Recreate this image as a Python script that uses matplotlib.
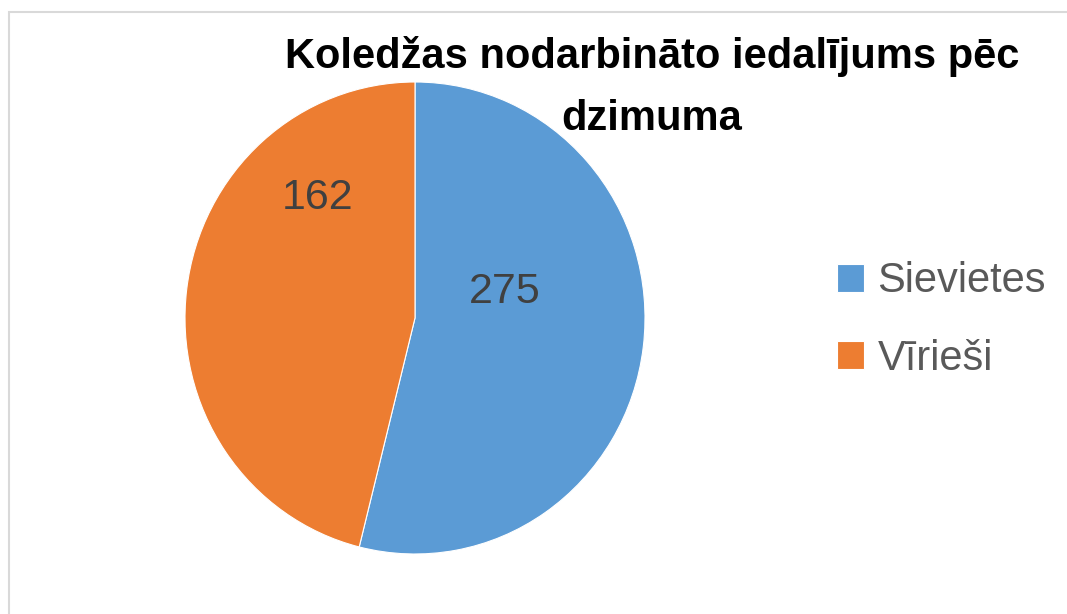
import matplotlib
matplotlib.use('Agg')
import matplotlib.pyplot as plt
from matplotlib.patches import Rectangle

# dati
kategorijas = ['Sievietes', 'Vīrieši']
skaits = [275, 162]
# slice shares as drawn in the original picture (labels show the counts)
dalas = [53.9, 46.1]
krasas = ['#5B9BD5', '#ED7D31']

W, H = 1067, 614
fig = plt.figure(figsize=(W / 100, H / 100), dpi=100)
fig.patch.set_facecolor('white')

fonts = ['Liberation Sans', 'DejaVu Sans']

# chart frame
fig.patches.append(Rectangle((9 / W, -0.1), 1.2, (H - 12) / H + 0.1, transform=fig.transFigure,
                             fill=False, edgecolor='#D9D9D9', linewidth=1.5))

ax = fig.add_axes([185 / W, (H - 554) / H, 460 / W, 472 / H])
wedges, _ = ax.pie(dalas, colors=krasas, startangle=90, counterclock=False,
                   wedgeprops=dict(linewidth=0.8, edgecolor='white'))
ax.set_aspect('auto')
ax.set_xlim(-1, 1)
ax.set_ylim(-1, 1)
ax.axis('off')

# datu etiketes
label_pos = [(505, 292), (318, 198)]
for val, (px, py) in zip(skaits, label_pos):
    fig.text(px / W, 1 - py / H, str(val), ha='center', va='center',
             fontsize=31, color='#404040', family=fonts)

# virsraksts
fig.text(652 / W, 1 - 68 / H, 'Koledžas nodarbināto iedalījums pēc', ha='center',
         va='baseline', fontsize=30, fontweight='bold', color='black', family=fonts, zorder=5)
fig.text(652 / W, 1 - 130 / H, 'dzimuma', ha='center',
         va='baseline', fontsize=30, fontweight='bold', color='black', family=fonts, zorder=5)

leg = fig.legend(wedges, kategorijas, loc='upper left', bbox_to_anchor=(799 / W, 1 - 224 / H),
                 frameon=False, prop={'family': fonts, 'size': 30}, labelcolor='#595959',
                 handlelength=0.65, handleheight=0.65, handletextpad=0.33, labelspacing=0.9)

fig.savefig('out.png', dpi=100)
